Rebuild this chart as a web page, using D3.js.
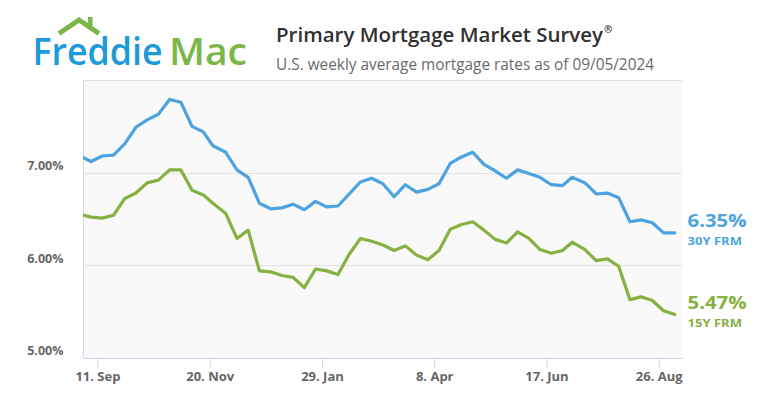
<!DOCTYPE html>
<html>
<head>
<meta charset="utf-8">
<script src="https://cdn.jsdelivr.net/npm/d3@7"></script>
<style>
  html, body { margin: 0; padding: 0; background: #ffffff; }
  svg { display: block; }
</style>
</head>
<body>
<svg id="chart" width="777" height="398"></svg>
<script>
// ---- Data ----
const dates = [
  "2023-08-31","2023-09-07","2023-09-14","2023-09-21","2023-09-28","2023-10-05","2023-10-12","2023-10-19","2023-10-26",
  "2023-11-02","2023-11-09","2023-11-16","2023-11-22","2023-11-30","2023-12-07","2023-12-14","2023-12-21","2023-12-28",
  "2024-01-04","2024-01-11","2024-01-18","2024-01-25","2024-02-01","2024-02-08","2024-02-15","2024-02-22","2024-02-29",
  "2024-03-07","2024-03-14","2024-03-21","2024-03-28","2024-04-04","2024-04-11","2024-04-18","2024-04-25",
  "2024-05-02","2024-05-09","2024-05-16","2024-05-23","2024-05-30","2024-06-06","2024-06-13","2024-06-20","2024-06-27",
  "2024-07-03","2024-07-11","2024-07-18","2024-07-25","2024-08-01","2024-08-08","2024-08-15","2024-08-22","2024-08-29",
  "2024-09-05"
];
const rate30 = [
  7.18,7.12,7.18,7.19,7.31,7.49,7.57,7.63,7.79,
  7.76,7.50,7.44,7.29,7.22,7.03,6.95,6.67,6.61,
  6.62,6.66,6.60,6.69,6.63,6.64,6.77,6.90,6.94,
  6.88,6.74,6.87,6.79,6.82,6.88,7.10,7.17,
  7.22,7.09,7.02,6.94,7.03,6.99,6.95,6.87,6.86,
  6.95,6.89,6.77,6.78,6.73,6.47,6.49,6.46,6.35,
  6.35
];
const rate15 = [
  6.55,6.52,6.51,6.54,6.72,6.78,6.89,6.92,7.03,
  7.03,6.81,6.76,6.67,6.56,6.29,6.38,5.94,5.93,
  5.89,5.87,5.76,5.96,5.94,5.90,6.12,6.29,6.26,
  6.22,6.16,6.21,6.11,6.06,6.16,6.39,6.44,
  6.47,6.38,6.28,6.24,6.36,6.29,6.17,6.13,6.16,
  6.25,6.17,6.05,6.07,5.99,5.63,5.66,5.62,5.51,
  5.47
];
const seriesNames = ["30Y FRM", "15Y FRM"];
const xTickDates = ["2023-09-11","2023-11-20","2024-01-29","2024-04-08","2024-06-17","2024-08-26"];
const yTickValues = [5, 6, 7];
const titleText = "Primary Mortgage Market Survey";
const subtitleText = "U.S. weekly average mortgage rates as of 09/05/2024";

// ---- Setup ----
const parse = d3.timeParse("%Y-%m-%d");
const svg = d3.select("#chart");
const FONT = "'Open Sans', 'DejaVu Sans', sans-serif";
const BLUE = "#4ca3df";
const GREEN = "#86b03f";

const plot = { left: 83, right: 682, top: 80, bottom: 358 };

const x = d3.scaleTime()
  .domain([new Date(2023, 8, 2), new Date(2024, 8, 9, 12)])
  .range([plot.left, plot.right]);
const y = d3.scaleLinear().domain([5, 8]).range([plot.bottom, plot.top]);

// ---- Header: logo ----
const logo = svg.append("g");
logo.append("path")
  .attr("d", "M59,33.5 L79,20 L99,33.5")
  .attr("fill", "none").attr("stroke", "#7ab648")
  .attr("stroke-width", 5).attr("stroke-linejoin", "miter");
logo.append("rect").attr("x", 88).attr("y", 17).attr("width", 4.5).attr("height", 9).attr("fill", "#7ab648");
logo.append("text").text("Freddie")
  .attr("x", 32.5).attr("y", 65)
  .attr("font-family", FONT).attr("font-weight", 600).attr("font-size", 38)
  .attr("fill", "#1c9ad9")
  .attr("textLength", 130).attr("lengthAdjust", "spacingAndGlyphs");
logo.append("text").text("Mac")
  .attr("x", 169).attr("y", 65)
  .attr("font-family", FONT).attr("font-weight", 600).attr("font-size", 38)
  .attr("fill", "#7ab648")
  .attr("textLength", 78).attr("lengthAdjust", "spacingAndGlyphs");

// ---- Title ----
svg.append("text").text(titleText)
  .attr("x", 276).attr("y", 41.7)
  .attr("font-family", FONT).attr("font-weight", 600).attr("font-size", 19)
  .attr("fill", "#303030")
  .attr("textLength", 327).attr("lengthAdjust", "spacingAndGlyphs");
svg.append("text").text("®")
  .attr("x", 604).attr("y", 33)
  .attr("font-family", FONT).attr("font-weight", 600).attr("font-size", 10)
  .attr("fill", "#303030");
svg.append("text").text(subtitleText)
  .attr("x", 276).attr("y", 70)
  .attr("font-family", FONT).attr("font-weight", 400).attr("font-size", 16.5)
  .attr("fill", "#6a6a6a")
  .attr("textLength", 378).attr("lengthAdjust", "spacingAndGlyphs");

// ---- Plot background ----
svg.append("rect")
  .attr("x", plot.left).attr("y", plot.top)
  .attr("width", plot.right - plot.left).attr("height", plot.bottom - plot.top)
  .attr("fill", "#f9f9f9");
svg.append("line")
  .attr("x1", plot.left).attr("x2", plot.right).attr("y1", plot.top + 0.5).attr("y2", plot.top + 0.5)
  .attr("stroke", "#e3e3e3").attr("stroke-width", 1);
svg.append("line")
  .attr("x1", plot.left + 0.5).attr("x2", plot.left + 0.5).attr("y1", plot.top).attr("y2", plot.bottom)
  .attr("stroke", "#d5dbe6").attr("stroke-width", 1);

// Gridlines
svg.append("g").selectAll("line")
  .data(yTickValues.filter(v => v > 5))
  .join("line")
  .attr("x1", plot.left).attr("x2", plot.right)
  .attr("y1", d => Math.round(y(d)) + 0.5).attr("y2", d => Math.round(y(d)) + 0.5)
  .attr("stroke", "#e3e3e3").attr("stroke-width", 1);

// Y labels
svg.append("g").selectAll("text")
  .data(yTickValues)
  .join("text")
  .attr("x", 63.5).attr("y", d => y(d) - 2.7)
  .attr("text-anchor", "end")
  .attr("font-family", FONT).attr("font-weight", 700).attr("font-size", 12.5)
  .attr("fill", "#666666")
  .text(d => d3.format(".2f")(d) + "%");

// X axis
const xAxis = d3.axisBottom(x)
  .tickValues(xTickDates.map(parse))
  .tickFormat(d3.timeFormat("%-d. %b"))
  .tickSize(10).tickSizeOuter(0).tickPadding(4);
const gx = svg.append("g").attr("transform", `translate(0,${plot.bottom})`).call(xAxis);
gx.select(".domain").attr("stroke", "#ccd6eb");
gx.selectAll(".tick line").attr("stroke", "#ccd6eb");
gx.selectAll(".tick text")
  .attr("font-family", FONT).attr("font-weight", 700).attr("font-size", 13)
  .attr("fill", "#666666").attr("dy", null).attr("y", 23);

// ---- Lines ----
svg.append("clipPath").attr("id", "plotclip")
  .append("rect").attr("x", plot.left).attr("y", plot.top - 5)
  .attr("width", plot.right - plot.left).attr("height", plot.bottom - plot.top + 10);

const parsedDates = dates.map(parse);
const line = d3.line()
  .x((d, i) => x(parsedDates[i]))
  .y(d => y(d));

const series = [
  { name: seriesNames[0], values: rate30, color: BLUE },
  { name: seriesNames[1], values: rate15, color: GREEN }
];

svg.append("g").attr("clip-path", "url(#plotclip)")
  .selectAll("path")
  .data(series)
  .join("path")
  .attr("d", d => line(d.values))
  .attr("fill", "none")
  .attr("stroke", d => d.color)
  .attr("stroke-width", 3.2)
  .attr("stroke-linejoin", "round")
  .attr("stroke-linecap", "round");

// ---- Right labels ----
const labelPos = [
  { valueY: 227.3, nameY: 245 },
  { valueY: 309, nameY: 326.7 }
];
series.forEach((s, i) => {
  const last = s.values[s.values.length - 1];
  svg.append("text").text(d3.format(".2f")(last) + "%")
    .attr("x", 687.5).attr("y", labelPos[i].valueY)
    .attr("font-family", FONT).attr("font-weight", 700).attr("font-size", 17)
    .attr("fill", s.color)
    .attr("textLength", 59).attr("lengthAdjust", "spacingAndGlyphs");
  svg.append("text").text(s.name)
    .attr("x", 687.5).attr("y", labelPos[i].nameY)
    .attr("font-family", FONT).attr("font-weight", 700).attr("font-size", 10.8)
    .attr("fill", s.color)
    .attr("textLength", 54.5).attr("lengthAdjust", "spacingAndGlyphs");
});
</script>
</body>
</html>
